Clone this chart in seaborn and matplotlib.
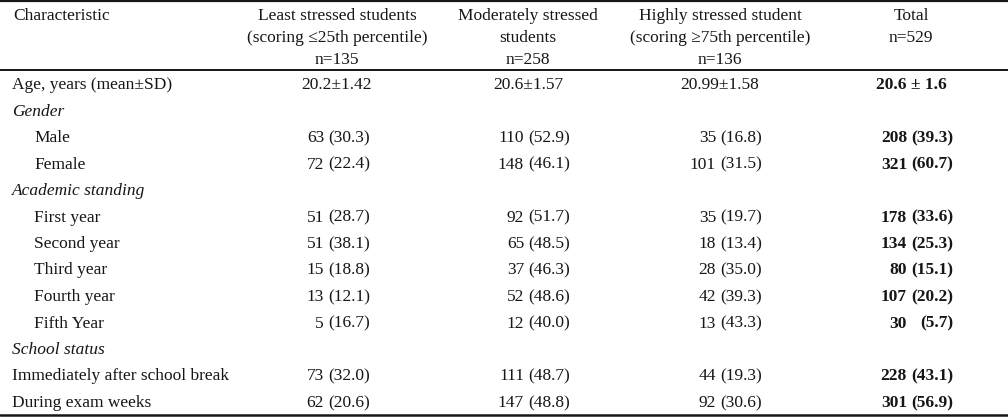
"""
Table: stress level of students by characteristic, drawn as text on a blank axes.
"""

import matplotlib.pyplot as plt
import pandas as pd
import seaborn as sns

# --- data ---
row_labels = [
    'Age, years (mean±SD)', 'Gender', 'Male', 'Female', 'Academic standing',
    'First year', 'Second year', 'Third year', 'Fourth year', 'Fifth Year',
    'School status', 'Immediately after school break', 'During exam weeks',
]
row_kind = [
    'plain', 'group', 'sub', 'sub', 'group',
    'sub', 'sub', 'sub', 'sub', 'sub',
    'group', 'plain', 'plain',
]
age_values = ['20.2±1.42', '20.6±1.57', '20.99±1.58', '20.6 ± 1.6']

least_n = [None, None, 63, 72, None, 51, 51, 15, 13, 5, None, 73, 62]
least_pct = [None, None, 30.3, 22.4, None, 28.7, 38.1, 18.8, 12.1, 16.7, None, 32.0, 20.6]
moderate_n = [None, None, 110, 148, None, 92, 65, 37, 52, 12, None, 111, 147]
moderate_pct = [None, None, 52.9, 46.1, None, 51.7, 48.5, 46.3, 48.6, 40.0, None, 48.7, 48.8]
high_n = [None, None, 35, 101, None, 35, 18, 28, 42, 13, None, 44, 92]
high_pct = [None, None, 16.8, 31.5, None, 19.7, 13.4, 35.0, 39.3, 43.3, None, 19.3, 30.6]
total_n = [None, None, 208, 321, None, 178, 134, 80, 107, 30, None, 228, 301]
total_pct = [None, None, 39.3, 60.7, None, 33.6, 25.3, 15.1, 20.2, 5.7, None, 43.1, 56.9]

headers = [
    'Least stressed students\n(scoring ≤25th percentile)\nn=135',
    'Moderately stressed\nstudents\nn=258',
    'Highly stressed student\n(scoring ≥75th percentile)\nn=136',
    'Total\nn=529',
]

df = pd.DataFrame({
    'label': row_labels, 'kind': row_kind,
    'least_n': least_n, 'least_pct': least_pct,
    'moderate_n': moderate_n, 'moderate_pct': moderate_pct,
    'high_n': high_n, 'high_pct': high_pct,
    'total_n': total_n, 'total_pct': total_pct,
})

# --- style ---
sns.set_theme(style='white')
plt.rcParams['font.family'] = ['Liberation Serif', 'DejaVu Serif']
FS = 12.5
INK = '#161616'

# column geometry (pixel units of the axes)
col_center = [337, 528, 720, 911]
pct_right = [370, 570, 762, 953]
cnt_right = [p - 46 for p in pct_right]
groups = ['least', 'moderate', 'high', 'total']

fig, ax = plt.subplots(figsize=(10.08, 4.17), dpi=100)
fig.subplots_adjust(left=0, right=1, bottom=0, top=1)
ax.set_xlim(0, 1008)
ax.set_ylim(417, 0)
ax.axis('off')

# rules
for y, lw in [(0.8, 1.6), (69.5, 1.4), (415, 1.8)]:
    ax.axhline(y, color=INK, lw=lw)

# header
ax.text(13, 20, 'Characteristic', fontsize=FS, va='baseline', ha='left', color=INK)
for x, h in zip(col_center, headers):
    for i, line in enumerate(h.split('\n')):
        ax.text(x, 20 + 22 * i, line, fontsize=FS, va='baseline', ha='center', color=INK)

# body
base0, step = 89, 26.5
for i, row in df.iterrows():
    y = base0 + step * i
    x = 34 if row['kind'] == 'sub' else 12
    style = 'italic' if row['kind'] == 'group' else 'normal'
    ax.text(x, y, row['label'], fontsize=FS, va='baseline', ha='left',
            style=style, color=INK)
    if i == 0:
        for j, (xc, v) in enumerate(zip(col_center, age_values)):
            ax.text(xc, y, v, fontsize=FS, va='baseline', ha='center', color=INK,
                    weight='bold' if j == 3 else 'normal')
        continue
    for j, g in enumerate(groups):
        n = row[f'{g}_n']
        if pd.isna(n):
            continue
        w = 'bold' if g == 'total' else 'normal'
        ax.text(cnt_right[j], y, f'{int(n)}', fontsize=FS, va='baseline',
                ha='right', weight=w, color=INK)
        ax.text(pct_right[j], y, f'({row[f"{g}_pct"]:.1f})', fontsize=FS,
                va='baseline', ha='right', weight=w, color=INK)

fig.savefig('out.png', dpi=100)
